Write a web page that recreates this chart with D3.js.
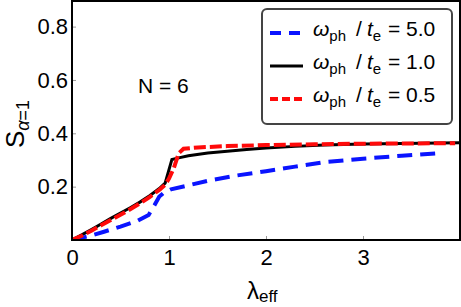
<!DOCTYPE html>
<html><head><meta charset="utf-8">
<script src="https://cdn.jsdelivr.net/npm/d3@7"></script>
<style>body{margin:0;background:#fff}svg{display:block}text{font-family:"Liberation Sans",Arial,sans-serif}</style>
</head><body><svg id="c" width="461" height="307"></svg>
<script>
const lamBlack = [0,0.1,0.2,0.3,0.4,0.5,0.6,0.7,0.8,0.9,0.96,1.03,1.1,1.2,1.4,1.6,1.8,2.0,2.3,2.6,3.0,3.4,3.8,4.0];
const sBlack   = [0,0.019,0.039,0.060,0.081,0.101,0.121,0.142,0.166,0.193,0.213,0.302,0.308,0.316,0.326,0.333,0.339,0.345,0.351,0.356,0.360,0.362,0.364,0.365];
const lamRed = [0,0.1,0.2,0.3,0.4,0.5,0.6,0.7,0.8,0.9,0.96,1.0,1.05,1.1,1.15,1.3,1.6,2.0,2.5,3.0,3.5,3.95];
const sRed   = [0,0.016,0.035,0.055,0.075,0.095,0.115,0.137,0.161,0.188,0.207,0.23,0.27,0.325,0.342,0.347,0.352,0.356,0.359,0.361,0.362,0.363];
const lamBlue = [0,0.1,0.2,0.33,0.5,0.67,0.79,0.85,0.9,0.95,1.02,1.2,1.4,1.7,2.0,2.3,2.6,3.0,3.4,3.8];
const sBlue   = [0,0.008,0.017,0.031,0.05,0.071,0.094,0.13,0.163,0.178,0.19,0.205,0.222,0.242,0.258,0.275,0.292,0.305,0.316,0.326];
const xTicks = [0,1,2,3];
const yTicks = [0.2,0.4,0.6,0.8];
const legendLabels = ["5.0","1.0","0.5"];

const svg = d3.select("#c");
const L=72, R=460, T=1, B=240;
const x = d3.scaleLinear().domain([0,4]).range([L,R]);
const y = d3.scaleLinear().domain([0,0.896]).range([B,T]);

svg.append("g").attr("transform",`translate(0,${B})`)
  .call(d3.axisBottom(x).tickValues(xTicks).tickSize(-4).tickPadding(8).tickFormat(d3.format("d")))
  .call(g=>{g.select(".domain").remove();g.selectAll("line").attr("stroke","#999").attr("stroke-width",1);
    g.selectAll("text").attr("font-size",22).attr("fill","#000").attr("dy","0.71em").attr("y",9);});
svg.append("g").attr("transform",`translate(${L},0)`)
  .call(d3.axisLeft(y).tickValues(yTicks).tickSize(-4).tickPadding(4).tickFormat(d3.format(".1f")))
  .call(g=>{g.select(".domain").remove();g.selectAll("line").attr("stroke","#999").attr("stroke-width",1);
    g.selectAll("text").attr("font-size",22).attr("fill","#000").attr("x",-4);});

const line = d3.line().x(d=>x(d[0])).y(d=>y(d[1]));
const zip=(a,b)=>a.map((v,i)=>[v,b[i]]);
svg.append("clipPath").attr("id","cp").append("rect").attr("x",L).attr("y",T).attr("width",R-L).attr("height",B-T);
const gL = svg.append("g").attr("clip-path","url(#cp)");
gL.append("path").datum(zip(lamBlack,sBlack)).attr("d",line).attr("fill","none").attr("stroke","#000").attr("stroke-width",3);
gL.append("path").datum(zip(lamBlue,sBlue)).attr("d",line).attr("fill","none").attr("stroke","#0a14ff").attr("stroke-width",4).attr("stroke-dasharray","15,8");
gL.append("path").datum(zip(lamRed,sRed)).attr("d",line).attr("fill","none").attr("stroke","#ff0a0a").attr("stroke-width",4).attr("stroke-dasharray","12,4");

svg.append("rect").attr("x",L).attr("y",T).attr("width",R-L).attr("height",B-T).attr("fill","none").attr("stroke","#000").attr("stroke-width",2);

const xl = svg.append("text").attr("x",247).attr("y",299).attr("font-size",24);
xl.append("tspan").text("λ");
xl.append("tspan").attr("font-size",17).attr("dy",3).text("eff");
const yl = svg.append("text").attr("transform","translate(24,148) rotate(-90)").attr("font-size",26);
yl.append("tspan").text("S");
yl.append("tspan").attr("font-size",18).attr("dy",5).attr("font-style","italic").text("α");
yl.append("tspan").attr("font-size",18).text("=1");

svg.append("text").attr("x",138).attr("y",93).attr("font-size",21).text("N = 6");

const lg = svg.append("g");
lg.append("rect").attr("x",262).attr("y",9).attr("width",190).attr("height",115).attr("rx",5)
  .attr("fill","#fff").attr("stroke","#444").attr("stroke-width",2);
const styles=[{c:"#0a14ff",w:4,d:"11,8"},{c:"#000",w:3,d:null},{c:"#ff0a0a",w:4,d:"8,4"}];
const rowsY=[33,66,99];
legendLabels.forEach((lab,i)=>{
  const yy=rowsY[i], s=styles[i];
  const p=lg.append("line").attr("x1",270).attr("x2",303).attr("y1",yy).attr("y2",yy).attr("stroke",s.c).attr("stroke-width",s.w);
  if(s.d) p.attr("stroke-dasharray",s.d);
  const t=lg.append("text").attr("x",313).attr("y",yy+3).attr("font-size",21);
  t.append("tspan").attr("font-style","italic").text("ω");
  t.append("tspan").attr("font-size",15).attr("dy",5).text("ph");
  t.append("tspan").attr("dy",-5).attr("x",356).text("/");
  t.append("tspan").attr("font-style","italic").attr("x",367).text("t");
  t.append("tspan").attr("font-size",15).attr("dy",5).text("e");
  t.append("tspan").attr("dy",-5).attr("x",388).text("= "+lab);
});
</script></body></html>
